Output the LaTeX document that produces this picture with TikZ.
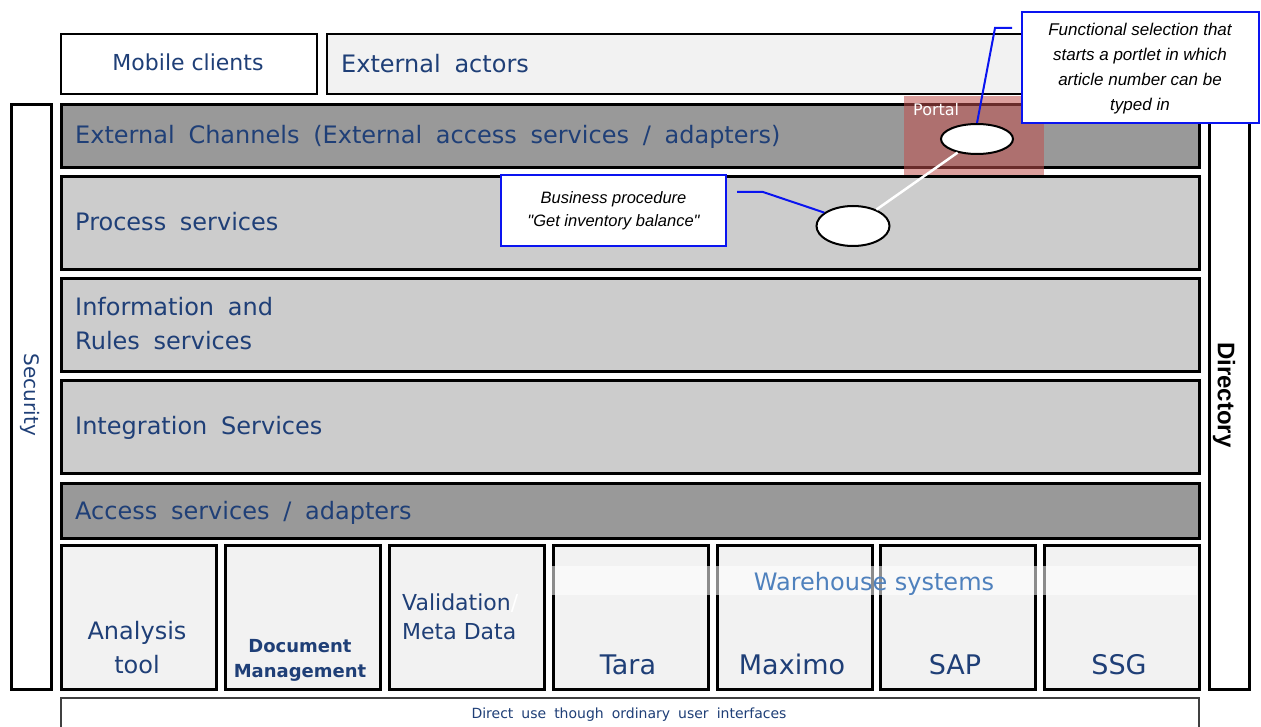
\documentclass[tikz,border=0pt]{standalone}
\usepackage{fontspec}
\setmainfont{DejaVu Sans}
\newfontfamily\lblfont{DejaVu Sans}[WordSpace=1.8]
\newfontfamily\arialfont{Liberation Sans}
\usetikzlibrary{shapes.geometric}

\definecolor{labelblue}{HTML}{1F3F77}
\definecolor{whblue}{HTML}{4F81BD}
\definecolor{darklayer}{HTML}{999999}
\definecolor{lightlayer}{HTML}{CCCCCC}
\definecolor{palebox}{HTML}{F2F2F2}
\definecolor{portalred}{HTML}{C0504D}
\definecolor{noteblue}{HTML}{0A14F0}
\definecolor{rimgray}{HTML}{404040}

\tikzset{
  panel/.style={draw=black, line width=3pt, inner sep=0pt, anchor=north west},
  toppanel/.style={panel, line width=2pt},
  darkband/.style={panel, fill=darklayer, minimum width=1138pt},
  lightband/.style={panel, fill=lightlayer, minimum width=1138pt, minimum height=93pt},
  sysbox/.style={panel, fill=palebox, minimum width=155pt, minimum height=144pt},
  sidebar/.style={panel, fill=white, minimum width=40pt, minimum height=585pt},
  lbl/.style={text=labelblue, inner sep=0pt, font=\lblfont\fontsize{24}{34}\selectfont},
  syslbl/.style={lbl, anchor=base, font=\lblfont\fontsize{27}{34}\selectfont},
  note/.style={draw=noteblue, line width=2pt, fill=white, inner sep=0pt,
    align=center, font=\arialfont\itshape\fontsize{17}{25}\selectfont},
  leader/.style={draw=noteblue, line width=2pt},
  bubble/.style={ellipse, draw=black, line width=2pt, fill=white, inner sep=0pt}
}

\begin{document}
\begin{tikzpicture}[x=1pt, y=-1pt]
\useasboundingbox (0,0) rectangle (1261,727);

% clients and actors on top
\node[toppanel, fill=white, minimum width=256pt, minimum height=60pt] (mobile) at (60,33) {};
\node[toppanel, fill=palebox, minimum width=872pt, minimum height=60pt] (actors) at (326,33) {};
\node[lbl, anchor=base, font=\fontsize{22}{26}\selectfont] (mobile-t) at (188,71) {Mobile clients};
\node[lbl, anchor=base west] (actors-t) at (341,73) {External actors};

% cross-cutting side bars
\node[sidebar] (security) at (10,103) {};
\node[sidebar] (directory) at (1208,103) {};
\node[lbl, rotate=-90, font=\lblfont\fontsize{20}{24}\selectfont] (security-t) at (30,395) {Security};
\node[inner sep=0pt, rotate=-90, font=\arialfont\bfseries\fontsize{24}{28}\selectfont] (directory-t) at (1224,395) {Directory};

% service layers
\node[darkband, minimum height=63pt] (channels) at (60,103) {};
\node[lightband] (process) at (60,175) {};
\node[lightband] (info) at (60,277) {};
\node[lightband] (integ) at (60,379) {};
\node[darkband, minimum height=55pt] (access) at (60,482) {};

\node[lbl, anchor=base west] (channels-t) at (75,144) {External Channels (External access services / adapters)};
\node[lbl, anchor=base west] (process-t) at (75,231) {Process services};
\node[lbl, anchor=base west, align=left] (info-t) at (75,349) {Information and\\Rules services};
\node[lbl, anchor=base west] (integ-t) at (75,434) {Integration Services};
\node[lbl, anchor=base west] (access-t) at (75,519) {Access services / adapters};

% back-end systems
\node[sysbox] (analysis) at (60,544) {};
\node[sysbox] (docmgmt) at (224,544) {};
\node[sysbox] (validation) at (388,544) {};
\node[sysbox] (tara) at (552,544) {};
\node[sysbox] (maximo) at (716,544) {};
\node[sysbox] (sap) at (879,544) {};
\node[sysbox] (ssg) at (1043,544) {};

\node[lbl, anchor=base, align=center] (analysis-t) at (137,673) {Analysis\\tool};
\node[lbl, anchor=base, align=center, font=\lblfont\bfseries\fontsize{18}{25}\selectfont] (docmgmt-t) at (300,677) {Document\\Management};
\node[lbl, anchor=base west, align=left, font=\fontsize{22}{29}\selectfont] (validation-t) at (402,639) {Validation\textcolor{white}{/}\\Meta Data};
\node[syslbl] (tara-t) at (628,674) {Tara};
\node[syslbl] (maximo-t) at (792,674) {Maximo};
\node[syslbl] (sap-t) at (955,674) {SAP};
\node[syslbl] (ssg-t) at (1119,674) {SSG};

% warehouse grouping band
\fill[white, opacity=0.55] (550,566) rectangle (1197,595);
\node[lbl, anchor=base, text=whblue, font=\fontsize{24}{30}\selectfont] (warehouse-t) at (874,590) {Warehouse systems};

% direct user interfaces
\node[panel, draw=rimgray, line width=2pt, fill=white, minimum width=1138pt, minimum height=40pt] (direct) at (60,697) {};
\node[lbl, anchor=base, font=\lblfont\fontsize{14}{18}\selectfont] (direct-t) at (629,718) {Direct use though ordinary user interfaces};

% portal area
\node[panel, draw=none, fill=portalred, fill opacity=0.55, minimum width=140pt, minimum height=79pt] (portal) at (902,95) {};
\node[anchor=base west, inner sep=0pt, text=white, font=\fontsize{16}{20}\selectfont] (portal-t) at (913,116) {Portal};

% procedure bubbles
\node[bubble, minimum width=72pt, minimum height=30pt] (portal-ell) at (977,139) {};
\node[bubble, minimum width=73pt, minimum height=40pt] (proc-ell) at (853,226) {};
\draw[white, line width=2.5pt] (proc-ell) -- (portal-ell);

% annotations
\node[note, minimum width=237pt, minimum height=111pt] (note-portal) at (1140.5,67.5) {};
\node[inner sep=0pt, align=center, font=\arialfont\itshape\fontsize{17}{25}\selectfont] (note-portal-t) at (1140,69)
  {Functional selection that\\starts a portlet in which\\article number can be\\typed in};
\node[note, font=\arialfont\itshape\fontsize{16.5}{23}\selectfont, minimum width=225pt, minimum height=71pt] (note-proc) at (613.5,210.5)
  {Business procedure\\"Get inventory balance"};

\coordinate (lead-portal) at (1012,28);
\coordinate (lead-proc) at (737,192);
\draw[leader] (lead-portal) -- (995,28) -- (portal-ell.north);
\draw[leader] (lead-proc) -- (763,192) -- (proc-ell.155);
\end{tikzpicture}
\end{document}
